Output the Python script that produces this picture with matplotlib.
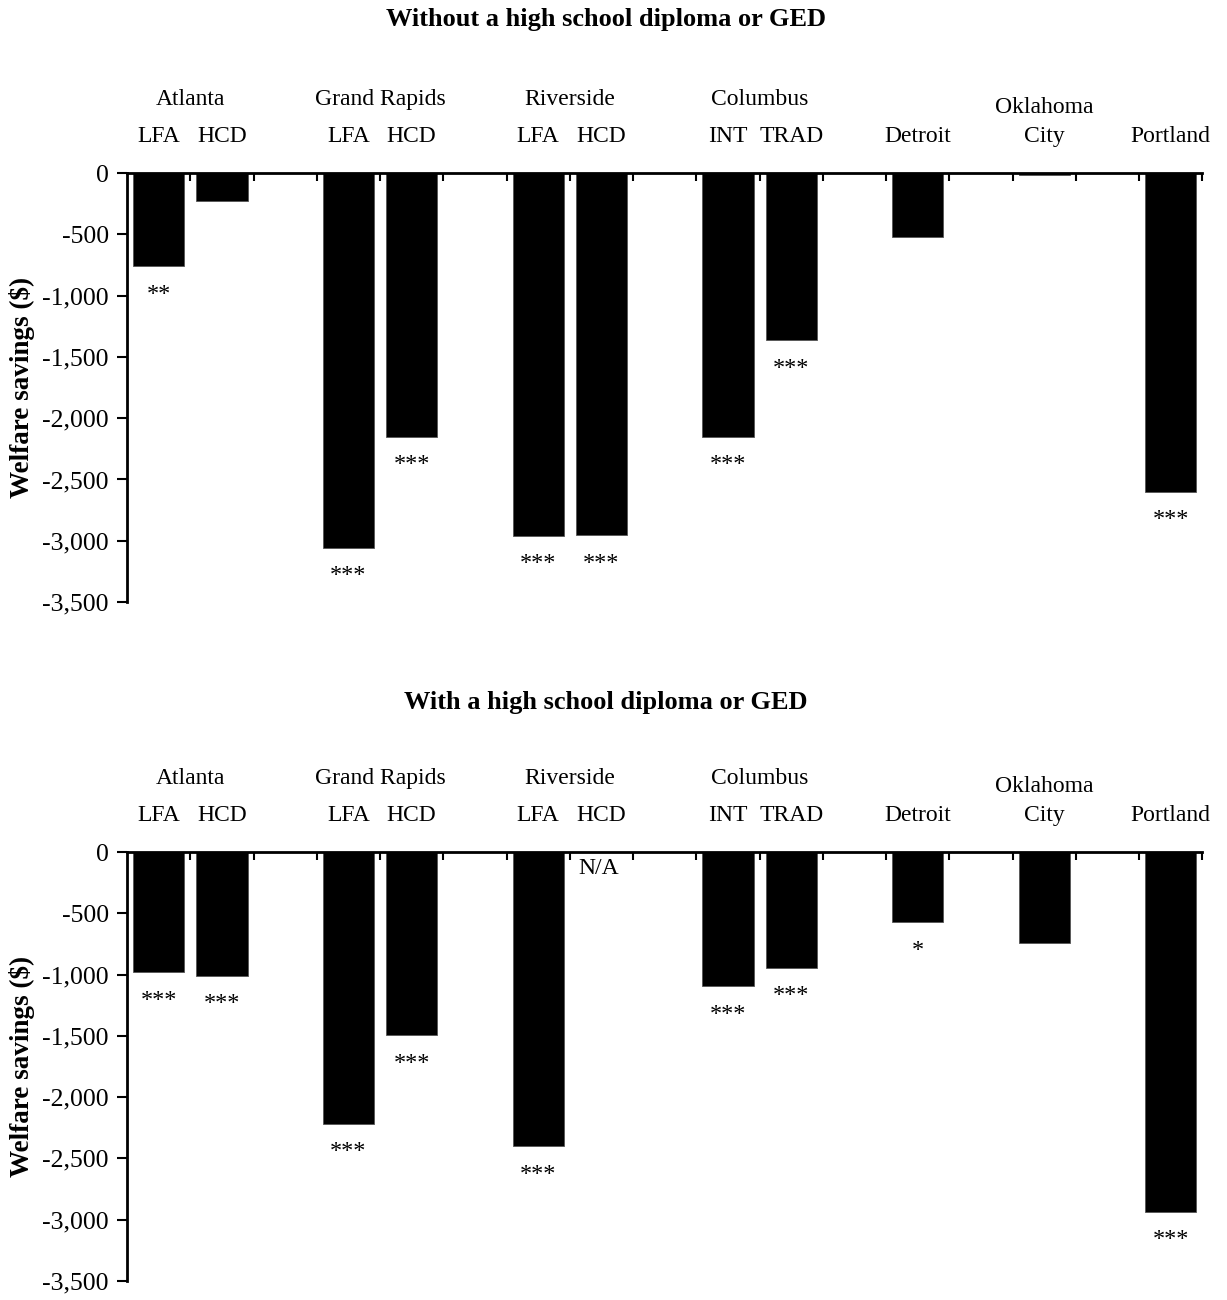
import matplotlib
matplotlib.use('Agg')
import matplotlib.pyplot as plt
from matplotlib.ticker import FuncFormatter

plt.rcParams['font.family'] = ['Liberation Serif', 'DejaVu Serif']

# bar slots along the x axis (gaps between sites are empty slots)
slots = [0, 1, 3, 4, 6, 7, 9, 10, 12, 14, 16]
programs = ['LFA', 'HCD', 'LFA', 'HCD', 'LFA', 'HCD', 'INT', 'TRAD', 'Detroit', 'City', 'Portland']
sites = ['Atlanta', 'Grand Rapids', 'Riverside', 'Columbus']
site_centers = [0.5, 3.5, 6.5, 9.5]

# welfare savings ($), no diploma / with diploma
no_diploma = [-760, -230, -3060, -2150, -2960, -2955, -2150, -1365, -520, -15, -2600]
no_diploma_sig = ['**', '', '***', '***', '***', '***', '***', '***', '', '', '***']
diploma = [-980, -1010, -2215, -1495, -2400, None, -1095, -943, -575, -740, -2935]
diploma_sig = ['***', '***', '***', '***', '***', '', '***', '***', '*', '', '***']

titles = ['Without a high school diploma or GED', 'With a high school diploma or GED']

fig = plt.figure(figsize=(12.27, 13.0), dpi=100)
ax_top = fig.add_axes([0.1035, 0.5369, 0.8765, 0.33])
ax_bot = fig.add_axes([0.1035, 0.0146, 0.8765, 0.33])

FS = 17


def panel(ax, values, sig):
    xs = [s for s, v in zip(slots, values) if v is not None]
    vs = [v for v in values if v is not None]
    ax.bar(xs, vs, width=0.81, color='black', edgecolor='#555555', linewidth=0.6)

    ax.set_xlim(-0.5, 16.5)
    ax.set_ylim(-3500, 0)
    ax.set_yticks(range(-3500, 1, 500))
    ax.yaxis.set_major_formatter(FuncFormatter(lambda v, p: '{:,.0f}'.format(v)))
    ax.tick_params(axis='y', direction='out', length=7, width=1.5, labelsize=18.5, pad=6)

    ax.xaxis.tick_top()
    ax.set_xticks([i + 0.5 for i in range(17)])
    ax.tick_params(axis='x', direction='in', length=6, width=1.5, labeltop=False, labelbottom=False)

    for side in ['right', 'bottom']:
        ax.spines[side].set_visible(False)
    for side in ['left', 'top']:
        ax.spines[side].set_linewidth(2)

    # program / site labels above the zero line
    for s, lab in zip(slots, programs):
        ax.annotate(lab, xy=(s, 1), xycoords=('data', 'axes fraction'), xytext=(0, 26),
                    textcoords='offset points', ha='center', va='center', fontsize=FS)
    for c, name in zip(site_centers, sites):
        ax.annotate(name, xy=(c, 1), xycoords=('data', 'axes fraction'), xytext=(0, 53),
                    textcoords='offset points', ha='center', va='center', fontsize=FS)
    ax.annotate('Oklahoma', xy=(14, 1), xycoords=('data', 'axes fraction'), xytext=(0, 47),
                textcoords='offset points', ha='center', va='center', fontsize=FS)

    # significance stars under each bar
    for s, v, st in zip(slots, values, sig):
        if v is None:
            ax.annotate('N/A', xy=(s, 0), xytext=(-2, -12), textcoords='offset points',
                        ha='center', va='center', fontsize=FS)
        elif st:
            ax.annotate(st, xy=(s, v), xytext=(0, -12.5), textcoords='offset points',
                        ha='center', va='top', fontsize=FS + 0.5)


panel(ax_top, no_diploma, no_diploma_sig)
panel(ax_bot, diploma, diploma_sig)

fig.text(0.494, 0.985, titles[0], ha='center', va='center', fontsize=19, fontweight='bold')
fig.text(0.494, 0.4595, titles[1], ha='center', va='center', fontsize=19, fontweight='bold')
for ax in [ax_top, ax_bot]:
    pos = ax.get_position()
    fig.text(0.018, pos.y0 + pos.height / 2, 'Welfare savings ($)', rotation=90,
             ha='center', va='center', fontsize=19.5, fontweight='bold')

fig.savefig('out.png', dpi=100)
